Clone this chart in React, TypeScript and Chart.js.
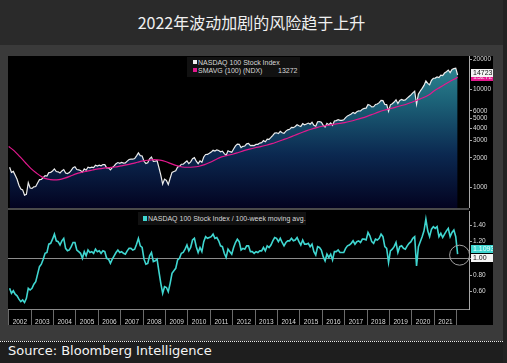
import React, { useEffect, useRef } from "react";
import { Chart, registerables } from "chart.js";
Chart.register(...registerables);

// ---------- data ----------
const START_YEAR = 2002; // first monthly observation: Jan 2002 (mid-month positions)
const X_MIN = 2001.97;
const X_MAX = 2022.55;

// NASDAQ 100 index, one value per month from Jan 2002 to Jan 2022
const ndxMonthly = [
  1600, 1420, 1452, 1330, 1208, 1051, 962, 942, 832, 850, 1116, 984,
  974, 1010, 1018, 1106, 1197, 1201, 1253, 1315, 1303, 1412, 1421, 1468,
  1540, 1449, 1438, 1398, 1467, 1517, 1400, 1380, 1412, 1491, 1583, 1621,
  1519, 1504, 1483, 1427, 1540, 1494, 1605, 1581, 1601, 1585, 1677, 1645,
  1678, 1654, 1703, 1701, 1577, 1575, 1504, 1584, 1655, 1736, 1787, 1756,
  1790, 1763, 1772, 1846, 1918, 1934, 1932, 1966, 2092, 2239, 2101, 2085,
  1841, 1750, 1781, 1950, 2031, 1837, 1843, 1872, 1584, 1329, 1080, 1212,
  1175, 1066, 1237, 1418, 1450, 1477, 1612, 1632, 1718, 1719, 1787, 1860,
  1741, 1815, 1956, 2006, 1843, 1743, 1862, 1796, 2037, 2158, 2162, 2218,
  2283, 2380, 2339, 2408, 2374, 2301, 2334, 2203, 2123, 2355, 2306, 2278,
  2457, 2638, 2755, 2741, 2540, 2615, 2633, 2772, 2799, 2654, 2677, 2661,
  2731, 2738, 2818, 2847, 2987, 2909, 3096, 3074, 3218, 3380, 3562, 3592,
  3526, 3709, 3596, 3545, 3736, 3849, 3895, 4082, 4049, 4158, 4334, 4236,
  4151, 4450, 4334, 4414, 4508, 4396, 4589, 4274, 4182, 4648, 4664, 4593,
  4280, 4100, 4483, 4341, 4523, 4280, 4730, 4771, 4875, 4801, 4810, 4864,
  5117, 5330, 5436, 5584, 5788, 5647, 5880, 5988, 5979, 6248, 6367, 6396,
  6950, 6855, 6581, 6605, 6967, 7040, 7272, 7660, 7627, 6967, 6949, 5950,
  6906, 7097, 7378, 7781, 7127, 7671, 7848, 7692, 7750, 8084, 8403, 8733,
  9151, 9500, 7000, 8890, 9556, 10157, 10906, 12111, 11418, 11052, 12268, 12888,
  12925, 13300, 13091, 13861, 13687, 14555, 15000, 15583, 14689, 15850, 16135, 16320,
  13900,
];

// 100-week moving average, one value per quarter from 2002.0 to 2022.0
const maQuarterly = [
  2600, 2350, 2050, 1780,
  1550, 1390, 1270, 1210,
  1190, 1200, 1240, 1300,
  1370, 1420, 1460, 1500,
  1540, 1570, 1590, 1610,
  1650, 1690, 1740, 1800,
  1860, 1890, 1910, 1890,
  1830, 1740, 1660, 1610,
  1600, 1610, 1640, 1700,
  1800, 1920, 2040, 2110,
  2170, 2260, 2360, 2450,
  2530, 2600, 2680, 2780,
  2910, 3050, 3200, 3370,
  3550, 3730, 3900, 4050,
  4180, 4280, 4370, 4460,
  4560, 4700, 4870, 5060,
  5280, 5540, 5820, 6080,
  6300, 6520, 6760, 7000,
  7350, 7750, 8150, 8700,
  9600, 10400, 11250, 12150,
  13000,
];
const maLast = 13272;

// NASDAQ 100 / 100-week moving average, one value per month from Jan 2002 to Jan 2022
const ratioMonthly = [
  0.64, 0.58, 0.61, 0.57, 0.55, 0.51, 0.48, 0.5, 0.47, 0.52, 0.64, 0.62,
  0.64, 0.69, 0.72, 0.81, 0.9, 0.93, 0.99, 1.06, 1.07, 1.17, 1.18, 1.23,
  1.29, 1.21, 1.2, 1.16, 1.21, 1.24, 1.12, 1.09, 1.1, 1.14, 1.19, 1.19,
  1.1, 1.08, 1.06, 1.0, 1.08, 1.03, 1.1, 1.07, 1.08, 1.06, 1.11, 1.08,
  1.09, 1.06, 1.09, 1.08, 1.0, 0.99, 0.94, 0.99, 1.03, 1.07, 1.1, 1.07,
  1.08, 1.06, 1.05, 1.09, 1.12, 1.12, 1.1, 1.11, 1.17, 1.24, 1.15, 1.13,
  0.99, 0.93, 0.94, 1.03, 1.07, 0.96, 0.97, 0.99, 0.84, 0.7, 0.58, 0.66,
  0.65, 0.6, 0.7, 0.82, 0.85, 0.88, 0.98, 1.0, 1.06, 1.07, 1.11, 1.16,
  1.09, 1.13, 1.22, 1.24, 1.14, 1.07, 1.13, 1.08, 1.2, 1.26, 1.24, 1.25,
  1.26, 1.29, 1.24, 1.25, 1.21, 1.15, 1.14, 1.06, 1.01, 1.11, 1.08, 1.05,
  1.13, 1.19, 1.23, 1.2, 1.1, 1.12, 1.11, 1.15, 1.15, 1.08, 1.08, 1.06,
  1.08, 1.07, 1.09, 1.09, 1.13, 1.09, 1.15, 1.13, 1.16, 1.21, 1.25, 1.24,
  1.2, 1.24, 1.19, 1.15, 1.19, 1.21, 1.21, 1.24, 1.21, 1.22, 1.25, 1.2,
  1.16, 1.22, 1.17, 1.17, 1.18, 1.14, 1.17, 1.08, 1.04, 1.14, 1.13, 1.1,
  1.02, 0.97, 1.05, 1.01, 1.05, 0.98, 1.08, 1.08, 1.1, 1.07, 1.07, 1.07,
  1.12, 1.15, 1.16, 1.18, 1.21, 1.17, 1.2, 1.21, 1.19, 1.23, 1.23, 1.22,
  1.31, 1.27, 1.2, 1.18, 1.23, 1.22, 1.24, 1.29, 1.26, 1.14, 1.12, 0.95,
  1.09, 1.11, 1.14, 1.19, 1.07, 1.14, 1.15, 1.12, 1.11, 1.15, 1.18, 1.2,
  1.24, 1.26, 0.91, 1.14, 1.2, 1.26, 1.33, 1.47, 1.33, 1.26, 1.35, 1.38,
  1.36, 1.38, 1.26, 1.3, 1.25, 1.29, 1.33, 1.36, 1.26, 1.31, 1.34, 1.26,
  1.05,
];

const yearTicks = [2002, 2003, 2004, 2005, 2006, 2007, 2008, 2009, 2010, 2011, 2012, 2013, 2014, 2015, 2016, 2017, 2018, 2019, 2020, 2021, 2022];
const topTicks = [1000, 2000, 3000, 4000, 5000, 6000, 10000, 20000];
const bottomTicks = [0.6, 0.8, 1.0, 1.2, 1.4];

const ndxLastLabel = "14723";
const maLastLabel = "13272";
const ratioLastLabel = "1.1093";
const refLabel = "1.00";

const TITLE = "2022年波动加剧的风险趋于上升";
const SOURCE = "Source: Bloomberg Intelligence";
const LEGEND_TOP_1 = "NASDAQ 100 Stock Index";
const LEGEND_TOP_2 = "SMAVG (100) (NDX)";
const LEGEND_BOTTOM = "NASDAQ 100 Stock Index / 100-week moving avg.";

// ---------- colours ----------
const WHITE_LINE = "#ececec";
const MAGENTA = "#e3198e";
const CYAN = "#3fd6d0";
const AXIS = "#a8a8a8";
const TICK_TEXT = "#dcdcdc";
const SMALL_FONT = "'Liberation Sans', Arial, sans-serif";

const monthX = (i: number) => START_YEAR + (i + 0.5) / 12;

function boxLabel(ctx: CanvasRenderingContext2D, x: number, w: number, yc: number, h: number, bg: string, fg: string, text: string) {
  ctx.save();
  ctx.fillStyle = bg;
  const top = Math.round(yc - h / 2);
  ctx.fillRect(x, top, w, h);
  ctx.fillStyle = fg;
  ctx.font = `7px ${SMALL_FONT}`;
  ctx.textBaseline = "middle";
  ctx.textAlign = "left";
  ctx.fillText(text, x + 2, top + h / 2 + 0.5);
  ctx.restore();
}

const noPadY = (s: any) => {
  s.width = 24;
  s.paddingTop = 0;
  s.paddingBottom = 0;
};

export default function App() {
  const topRef = useRef<HTMLCanvasElement>(null);
  const botRef = useRef<HTMLCanvasElement>(null);

  useEffect(() => {
    const ndxData = ndxMonthly.map((v, i) => ({ x: monthX(i), y: v }));
    const lastX = monthX(ndxMonthly.length - 1);
    const maData = maQuarterly.map((v, i) => ({ x: START_YEAR + i * 0.25, y: v }));
    maData.push({ x: lastX, y: maLast });
    const ratioData = ratioMonthly.map((v, i) => ({ x: monthX(i), y: v }));

    const topBoxes = {
      id: "topBoxes",
      afterDraw(chart: any) {
        const { ctx, chartArea, scales } = chart;
        const y = scales.y;
        const x0 = chartArea.right + 2;
        const w = chart.width - x0;
        boxLabel(ctx, x0, w, y.getPixelForValue(maLast), 8, MAGENTA, "#f6c8e4", maLastLabel);
        boxLabel(ctx, x0, w, y.getPixelForValue(Number(ndxLastLabel)), 8, "#f4f4f4", "#111", ndxLastLabel);
      },
    };

    const top = new Chart(topRef.current!, {
      type: "line",
      data: {
        datasets: [
          {
            label: LEGEND_TOP_2,
            data: maData,
            borderColor: MAGENTA,
            borderWidth: 1.2,
            pointRadius: 0,
            fill: false,
            order: 1,
            tension: 0.3,
          },
          {
            label: LEGEND_TOP_1,
            data: ndxData,
            borderColor: WHITE_LINE,
            borderWidth: 1.2,
            pointRadius: 0,
            order: 2,
            fill: "start",
            backgroundColor: (c: any) => {
              const ch = c.chart;
              const a = ch.chartArea;
              if (!a) return "rgba(0,0,0,0)";
              const g = ch.ctx.createLinearGradient(0, a.top, 0, a.bottom);
              g.addColorStop(0, "rgb(50,142,152)");
              g.addColorStop(0.3, "rgb(28,98,120)");
              g.addColorStop(0.65, "rgb(11,40,80)");
              g.addColorStop(1, "rgb(3,3,32)");
              return g;
            },
          },
        ],
      },
      options: {
        animation: false,
        responsive: false,
        maintainAspectRatio: false,
        layout: { padding: 0 },
        plugins: { legend: { display: false }, tooltip: { enabled: false } },
        scales: {
          x: { type: "linear", min: X_MIN, max: X_MAX, display: false },
          y: {
            type: "logarithmic",
            position: "right",
            min: 616,
            max: 21700,
            afterBuildTicks: (s: any) => {
              s.ticks = topTicks.map((v) => ({ value: v }));
            },
            afterFit: noPadY,
            ticks: {
              color: TICK_TEXT,
              font: { size: 6.5, family: SMALL_FONT },
              padding: 1,
              callback: (v: any) => String(v),
            },
            grid: { drawOnChartArea: false, tickLength: 3, color: AXIS },
            border: { color: AXIS },
          },
        },
      },
      plugins: [topBoxes],
    });

    const botExtras = {
      id: "botExtras",
      afterDraw(chart: any) {
        const { ctx, chartArea, scales } = chart;
        const y = scales.y;
        const x = scales.x;
        const x0 = chartArea.right + 2;
        const w = chart.width - x0;
        boxLabel(ctx, x0, w, y.getPixelForValue(1.1093), 8, CYAN, "#eaffff", ratioLastLabel);
        boxLabel(ctx, x0, w, y.getPixelForValue(1.0), 8, "#f4f4f4", "#111", refLabel);
        const last = ratioData[ratioData.length - 1];
        ctx.save();
        ctx.strokeStyle = "#a0a0a0";
        ctx.lineWidth = 1;
        ctx.beginPath();
        ctx.arc(x.getPixelForValue(last.x) + 2, y.getPixelForValue(last.y) + 1, 10, 0, Math.PI * 2);
        ctx.stroke();
        ctx.restore();
      },
    };

    const bot = new Chart(botRef.current!, {
      type: "line",
      data: {
        datasets: [
          {
            label: LEGEND_BOTTOM,
            data: ratioData,
            borderColor: CYAN,
            borderWidth: 1.6,
            pointRadius: 0,
            fill: false,
          },
        ],
      },
      options: {
        animation: false,
        responsive: false,
        maintainAspectRatio: false,
        layout: { padding: { top: 1, left: 0, right: 0, bottom: 0 } },
        plugins: { legend: { display: false }, tooltip: { enabled: false } },
        scales: {
          x: {
            type: "linear",
            min: X_MIN,
            max: X_MAX,
            position: "bottom",
            afterBuildTicks: (s: any) => {
              s.ticks = yearTicks.map((v) => ({ value: v }));
            },
            afterFit: (s: any) => {
              s.height = 16;
              s.paddingLeft = 0;
              s.paddingRight = 0;
            },
            ticks: {
              color: TICK_TEXT,
              font: { size: 6.5, family: SMALL_FONT },
              maxRotation: 0,
              autoSkip: false,
              labelOffset: 11.2,
              padding: -7,
              callback: (v: any) => (v < yearTicks[yearTicks.length - 1] ? String(v) : ""),
            },
            grid: { drawOnChartArea: false, tickLength: 16, color: "#6a6a6a" },
            border: { color: "#8a8a8a" },
          },
          y: {
            type: "linear",
            position: "right",
            min: 0.392,
            max: 1.568,
            afterBuildTicks: (s: any) => {
              s.ticks = bottomTicks.map((v) => ({ value: v }));
            },
            afterFit: noPadY,
            ticks: {
              color: TICK_TEXT,
              font: { size: 6.5, family: SMALL_FONT },
              padding: 1,
              callback: (v: any) => Number(v).toFixed(2),
            },
            grid: {
              drawOnChartArea: true,
              tickLength: 3,
              color: (c: any) => (c.tick && Math.abs(c.tick.value - 1) < 1e-6 ? "#8c8c8c" : "rgba(0,0,0,0)"),
              tickColor: AXIS,
            },
            border: { color: AXIS },
          },
        },
      },
      plugins: [botExtras],
    });

    return () => {
      top.destroy();
      bot.destroy();
    };
  }, []);

  const legendText: React.CSSProperties = {
    fontFamily: SMALL_FONT,
    fontSize: "7px",
    color: "#d8d8d8",
    lineHeight: "7px",
    whiteSpace: "nowrap",
  };

  return (
    <div style={{ position: "absolute", left: 0, top: 0, width: 507, height: 363, background: "#1e1e1e", overflow: "hidden" }}>
      {/* header */}
      <div style={{ position: "absolute", left: 0, top: 0, width: 503, height: 45, background: "#2a2a2a" }} />
      <div
        style={{
          position: "absolute",
          left: 0,
          top: 12,
          width: 503,
          textAlign: "center",
          color: "#f0f0f0",
          fontFamily: "'Noto Sans CJK SC', 'Noto Sans', sans-serif",
          fontSize: "16px",
          lineHeight: "20px",
        }}
      >
        {TITLE}
      </div>
      {/* frame */}
      <div style={{ position: "absolute", left: 0, top: 45, width: 503, height: 296, background: "#3a3a3a" }} />
      <div style={{ position: "absolute", left: 0, top: 341, width: 503, height: 0, borderTop: "1px dotted #e8e8e8" }} />
      <div style={{ position: "absolute", left: 503, top: 0, width: 4, height: 363, background: "#222" }} />
      {/* black chart area */}
      <div style={{ position: "absolute", left: 8, top: 56, width: 485, height: 269, background: "#000" }} />
      <canvas ref={topRef} width={485} height={152} style={{ position: "absolute", left: 8, top: 56, width: 485, height: 152 }} />
      <div style={{ position: "absolute", left: 8, top: 208, width: 461, height: 2, background: "#4a4a4a" }} />
      <canvas ref={botRef} width={485} height={115} style={{ position: "absolute", left: 8, top: 210, width: 485, height: 115 }} />

      {/* top legend */}
      <div style={{ position: "absolute", left: 187, top: 57, width: 113, height: 20, background: "#111" }} />
      <div style={{ position: "absolute", left: 193, top: 60, width: 4, height: 4, background: "#f0f0f0" }} />
      <div style={{ ...legendText, position: "absolute", left: 198, top: 59 }}>{LEGEND_TOP_1}</div>
      <div style={{ position: "absolute", left: 193, top: 68, width: 4, height: 4, background: MAGENTA }} />
      <div style={{ ...legendText, position: "absolute", left: 198, top: 67 }}>{LEGEND_TOP_2}</div>
      <div style={{ ...legendText, position: "absolute", left: 278, top: 67 }}>{maLastLabel}</div>

      {/* bottom legend */}
      <div style={{ position: "absolute", left: 138, top: 212, width: 168, height: 13, background: "#111" }} />
      <div style={{ position: "absolute", left: 143, top: 216, width: 4, height: 5, background: CYAN }} />
      <div style={{ ...legendText, position: "absolute", left: 148, top: 215 }}>{LEGEND_BOTTOM}</div>

      {/* source */}
      <div
        style={{
          position: "absolute",
          left: 8,
          top: 341,
          color: "#f4f4f4",
          fontFamily: "'DejaVu Sans', Verdana, sans-serif",
          fontSize: "13px",
          lineHeight: "20px",
          whiteSpace: "nowrap",
        }}
      >
        {SOURCE}
      </div>
    </div>
  );
}
